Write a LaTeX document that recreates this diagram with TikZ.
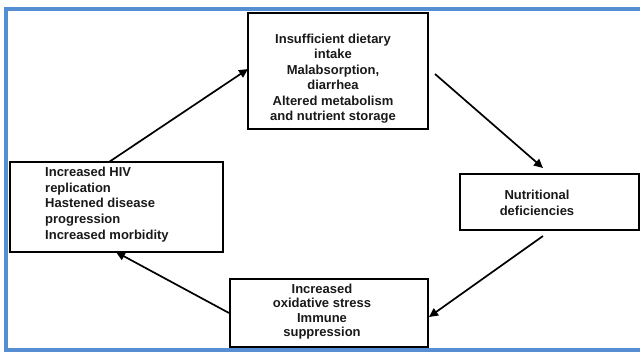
\documentclass[tikz,border=0pt]{standalone}
\usepackage{fontspec}
\setmainfont{Liberation Sans}
\usetikzlibrary{arrows.meta,calc}
\definecolor{framblue}{RGB}{86,142,212}
\begin{document}
\begin{tikzpicture}[x=1pt,y=-1pt,
  boxnode/.style={draw=black,line width=1.6pt,inner sep=0pt,outer sep=0pt,anchor=north west},
  txt/.style={font=\bfseries\fontsize{13}{15.5}\selectfont,inner sep=0pt,text=black!90},
  arr/.style={line width=1.7pt,-{Triangle[length=9pt,width=8.5pt]}}]
\useasboundingbox (0,0) rectangle (640,352);
% blue frame
\draw[framblue,line width=4pt] (650,9) -- (6,9) -- (6,350.5) -- (650,350.5);
% boxes
\node[boxnode,minimum width=180pt,minimum height=116pt] (top) at (248,13) {};
\node[boxnode,minimum width=179pt,minimum height=56pt] (right) at (460,174) {};
\node[boxnode,minimum width=198pt,minimum height=68pt] (bottom) at (230,279) {};
\node[boxnode,minimum width=213pt,minimum height=90pt] (left) at (10,162) {};
% texts
\node[txt,align=center] (toptext) at (333,78.5) {Insufficient dietary\\intake\\Malabsorption,\\diarrhea\\Altered metabolism\\and nutrient storage};
\node[txt,align=left,anchor=west,font=\bfseries\fontsize{13}{15.8}\selectfont] (lefttext) at (45,204.5) {Increased HIV\\replication\\Hastened disease\\progression\\Increased morbidity};
\node[txt,align=center,font=\bfseries\fontsize{13}{16}\selectfont] (righttext) at (537,203) {Nutritional\\deficiencies};
\node[txt,align=center,font=\bfseries\fontsize{13}{14.5}\selectfont] (bottomtext) at (322,311.5) {Increased\\oxidative stress\\Immune\\suppression};
% connector end points
\coordinate (a1s) at ($(left.north west)+(99,0)$);
\coordinate (a1e) at ($(top.north west)+(0,56)$);
\coordinate (a2s) at ($(top.north east)+(7,61)$);
\coordinate (a2e) at ($(right.north west)+(83,-6)$);
\coordinate (a3s) at ($(right.south west)+(83,6)$);
\coordinate (a3e) at ($(bottom.north east)+(1,38)$);
\coordinate (a4s) at ($(bottom.north west)+(-1,34)$);
\coordinate (a4e) at ($(left.south west)+(106,0)$);
\draw[arr] (a1s) -- (a1e);
\draw[arr] (a2s) -- (a2e);
\draw[arr] (a3s) -- (a3e);
\draw[arr] (a4s) -- (a4e);
\end{tikzpicture}
\end{document}
